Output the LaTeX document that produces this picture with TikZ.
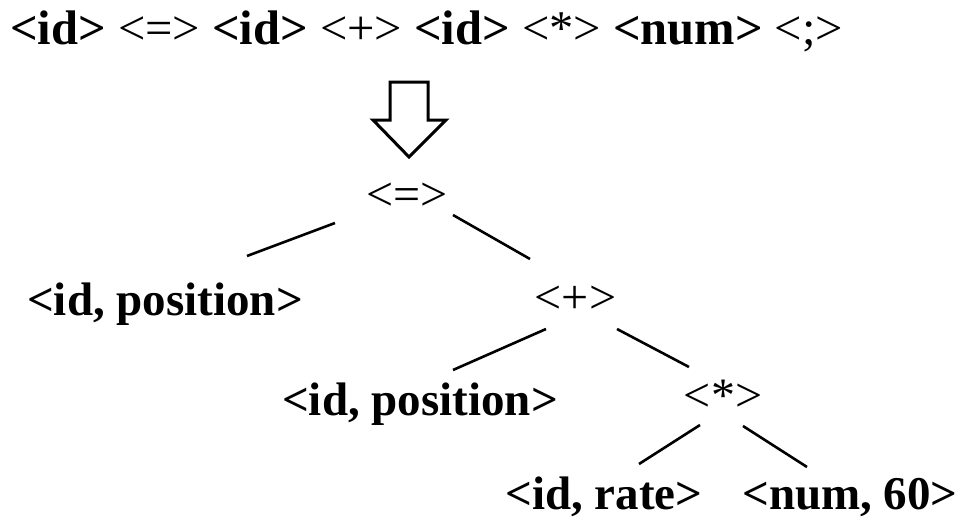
\documentclass[tikz,border=0pt]{standalone}
\usepackage{fontspec}
\setmainfont{Liberation Serif}
\usetikzlibrary{calc}
\newcommand{\optok}[1]{\textmd{#1}}
\begin{document}
\begin{tikzpicture}[x=1pt,y=-1pt,
  word/.style={inner sep=0pt,anchor=base,font=\fontsize{47}{56}\selectfont\bfseries},
  oper/.style={inner sep=0pt,anchor=base,font=\fontsize{48}{56}\selectfont},
  edge/.style={line width=2.6pt}]
\useasboundingbox (0,0) rectangle (961,519);
\node[inner sep=0pt,anchor=base west,font=\fontsize{48.5}{58}\selectfont\bfseries] (tokens) at (10,45)
  {<id> \optok{<=>} <id> \optok{<+>} <id> \optok{<*>} <num> \optok{<;>}};
\draw[line width=3pt,miter limit=10] (390,82) -- (428,82) -- (428,120) -- (446,120) -- (409,157) -- (373,120) -- (390,120) -- cycle;
\node[oper] (eq) at (407,210) {<=>};
\node[word] (id1) at (165,315) {<id, position>};
\node[oper] (plus) at (575.5,313) {<+>};
\node[word] (id2) at (420,415) {<id, position>};
\node[oper] (star) at (723,411) {<*>};
\node[word] (rate) at (604,509) {<id, rate>};
\node[word] (num) at (850,509) {<num, 60>};
\draw[edge] ($(eq.base)+(-72,13)$) -- ($(id1.base)+(82,-59)$);
\draw[edge] ($(eq.base)+(46,5)$) -- ($(plus.base)+(-45.5,-54)$);
\draw[edge] ($(plus.base)+(-29.5,16)$) -- ($(id2.base)+(33,-45)$);
\draw[edge] ($(plus.base)+(41.5,16)$) -- ($(star.base)+(-34,-44)$);
\draw[edge] ($(star.base)+(-23,14)$) -- ($(rate.base)+(35,-45)$);
\draw[edge] ($(star.base)+(20,15)$) -- ($(num.base)+(-43,-42)$);
\end{tikzpicture}
\end{document}
